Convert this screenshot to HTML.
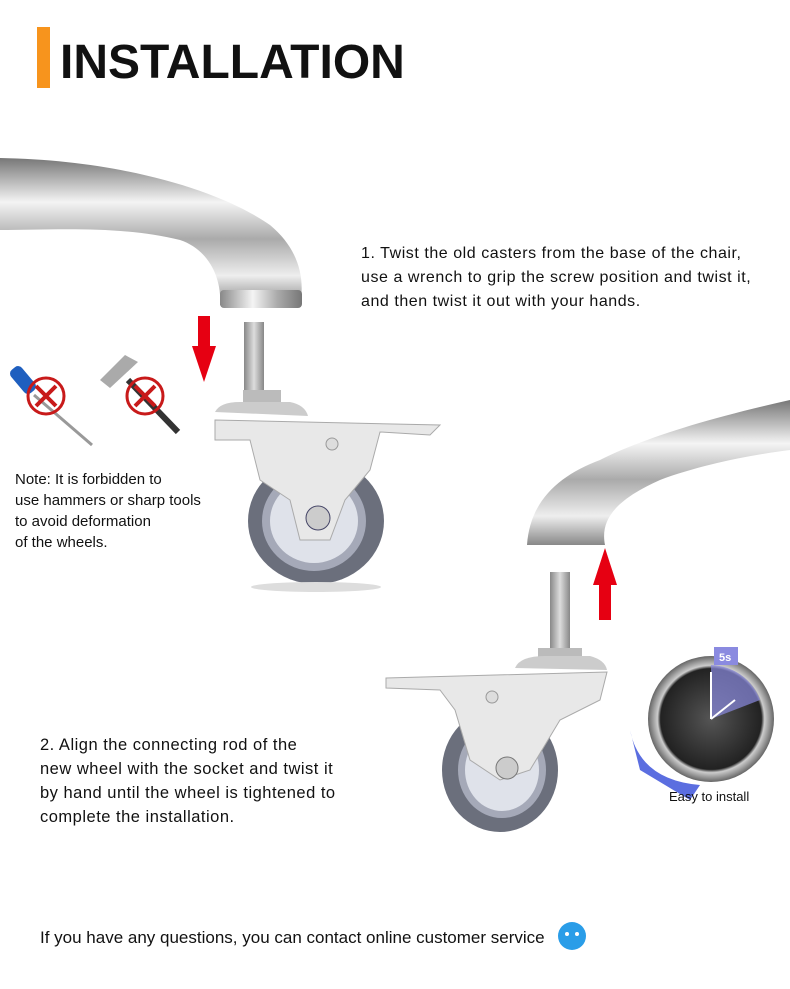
<!DOCTYPE html>
<html><head><meta charset="utf-8"><style>
body{margin:0;width:790px;height:989px;background:#fff;position:relative;overflow:hidden;font-family:"Liberation Sans",sans-serif;color:#111}
.t{position:absolute;font-size:15.5px;line-height:24px}
</style></head><body>
<svg width="790" height="989" style="position:absolute;left:0;top:0">
<defs>
<linearGradient id="chr" x1="0" y1="0" x2="0" y2="1"><stop offset="0" stop-color="#777"/><stop offset=".3" stop-color="#f4f4f4"/><stop offset=".55" stop-color="#aaa"/><stop offset=".8" stop-color="#eee"/><stop offset="1" stop-color="#888"/></linearGradient>
<linearGradient id="chv" x1="0" y1="0" x2="1" y2="0"><stop offset="0" stop-color="#888"/><stop offset=".4" stop-color="#f4f4f4"/><stop offset=".7" stop-color="#aaa"/><stop offset="1" stop-color="#777"/></linearGradient>
<linearGradient id="sc" x1="0" y1="0" x2="1" y2="0"><stop offset="0" stop-color="#888"/><stop offset=".5" stop-color="#ddd"/><stop offset="1" stop-color="#888"/></linearGradient>
<radialGradient id="clk"><stop offset="0" stop-color="#555"/><stop offset=".8" stop-color="#222"/><stop offset=".85" stop-color="#ccc"/><stop offset="1" stop-color="#666"/></radialGradient>
</defs>
<rect x="37" y="27" width="13" height="61" fill="#f7941d"/>
<text x="60" y="78" font-family="Liberation Sans" font-weight="bold" font-size="48" fill="#111">INSTALLATION</text>
<!-- leg 1 -->
<path d="M0 158 C120 160 220 190 270 225 C300 250 305 280 300 305 L220 305 C222 280 210 250 180 240 C120 225 50 230 0 230 Z" fill="url(#chr)"/>
<rect x="220" y="290" width="82" height="18" rx="4" fill="url(#chv)"/>
<!-- arrow down -->
<rect x="198" y="316" width="12" height="32" fill="#e60012"/><path d="M192 346 L216 346 L204 382 Z" fill="#e60012"/>
<!-- caster 1 -->
<rect x="244" y="322" width="20" height="70" fill="url(#sc)"/>
<rect x="243" y="390" width="38" height="15" fill="#bbb"/>
<path d="M215 412 Q220 402 240 402 L290 402 Q305 405 308 416 Z" fill="#ccc"/>
<ellipse cx="316" cy="521" rx="68" ry="63" fill="#6b6f7c"/>
<ellipse cx="314" cy="521" rx="52" ry="50" fill="#a5a9b8"/>
<ellipse cx="314" cy="521" rx="44" ry="42" fill="#dfe2ea"/>
<path d="M215 420 L440 425 L430 435 L380 432 L370 470 L345 500 L330 540 L300 540 L290 500 L260 480 L250 440 L215 440 Z" fill="#e8e8e8" stroke="#aaa"/>
<circle cx="318" cy="518" r="12" fill="#ccc" stroke="#446"/>
<circle cx="332" cy="444" r="6" fill="#ddd" stroke="#999"/>
<ellipse cx="316" cy="587" rx="65" ry="5" fill="#ddd"/>
<!-- tools -->
<rect x="16" y="365" width="14" height="30" rx="5" fill="#1f5fbf" transform="rotate(-40 23 380)"/>
<line x1="34" y1="395" x2="92" y2="445" stroke="#999" stroke-width="3"/>
<circle cx="46" cy="396" r="18" fill="none" stroke="#c81a1a" stroke-width="3"/>
<path d="M36 386 L56 406 M56 386 L36 406" stroke="#c81a1a" stroke-width="4"/>
<path d="M100 380 L125 355 L138 362 L110 388 Z" fill="#aaa"/>
<line x1="128" y1="380" x2="178" y2="432" stroke="#333" stroke-width="6"/>
<circle cx="145" cy="396" r="18" fill="none" stroke="#c81a1a" stroke-width="3"/>
<path d="M135 386 L155 406 M155 386 L135 406" stroke="#c81a1a" stroke-width="4"/>
<!-- leg 2 -->
<path d="M790 400 C700 420 640 440 600 460 C560 475 530 500 527 545 L605 545 C600 520 615 500 660 480 C700 465 750 455 790 450 Z" fill="url(#chr)"/>
<!-- arrow up -->
<path d="M605 548 L617 585 L593 585 Z" fill="#e60012"/><rect x="599" y="584" width="12" height="36" fill="#e60012"/>
<!-- caster 2 -->
<rect x="550" y="572" width="20" height="80" fill="url(#sc)"/>
<rect x="538" y="648" width="44" height="14" fill="#bbb"/>
<path d="M515 668 Q520 656 545 656 L590 656 Q605 660 607 670 Z" fill="#ccc"/>
<ellipse cx="500" cy="770" rx="58" ry="62" fill="#6b6f7c"/>
<ellipse cx="502" cy="770" rx="44" ry="48" fill="#a5a9b8"/>
<ellipse cx="502" cy="770" rx="37" ry="41" fill="#dfe2ea"/>
<path d="M386 678 L607 672 L600 700 L560 720 L530 770 L500 780 L470 760 L455 710 L440 690 L386 688 Z" fill="#e8e8e8" stroke="#aaa"/>
<circle cx="507" cy="768" r="11" fill="#ccc" stroke="#777"/>
<circle cx="492" cy="697" r="6" fill="#ddd" stroke="#999"/>
<!-- clock -->
<path d="M630 730 Q640 780 700 785 L690 800 L640 770 Z" fill="#5b6ee0"/>
<circle cx="711" cy="719" r="63" fill="url(#clk)"/>
<path d="M711 719 L711 665 A54 54 0 0 1 760 700 Z" fill="#8a8ae0" opacity=".7"/>
<rect x="714" y="647" width="24" height="18" fill="#8a8ae0"/><text x="719" y="661" font-size="11" fill="#fff" font-family="Liberation Sans" font-weight="bold">5s</text>
<line x1="711" y1="719" x2="711" y2="672" stroke="#fff" stroke-width="2"/>
<line x1="711" y1="719" x2="735" y2="700" stroke="#fff" stroke-width="2"/>
<!-- chat icon -->
<circle cx="572" cy="936" r="14" fill="#2a9de8"/><circle cx="567" cy="934" r="2" fill="#fff"/><circle cx="577" cy="934" r="2" fill="#fff"/>
</svg>
<div class="t" style="left:361px;top:242px;font-size:16px;letter-spacing:.55px">1. Twist the old casters from the base of the chair,<br>use a wrench to grip the screw position and twist it,<br>and then twist it out with your hands.</div>
<div class="t" style="left:15px;top:469px;font-size:15px;line-height:21px">Note: It is forbidden to<br>use hammers or sharp tools<br>to avoid deformation<br>of the wheels.</div>
<div class="t" style="left:40px;top:733px;font-size:16.5px;letter-spacing:.5px">2. Align the connecting rod of the<br>new wheel with the socket and twist it<br>by hand until the wheel is tightened to<br>complete the installation.</div>
<div class="t" style="left:669px;top:788px;font-size:13px;line-height:18px">Easy to install</div>
<div class="t" style="left:40px;top:926px;font-size:17px">If you have any questions, you can contact online customer service</div>
</body></html>
